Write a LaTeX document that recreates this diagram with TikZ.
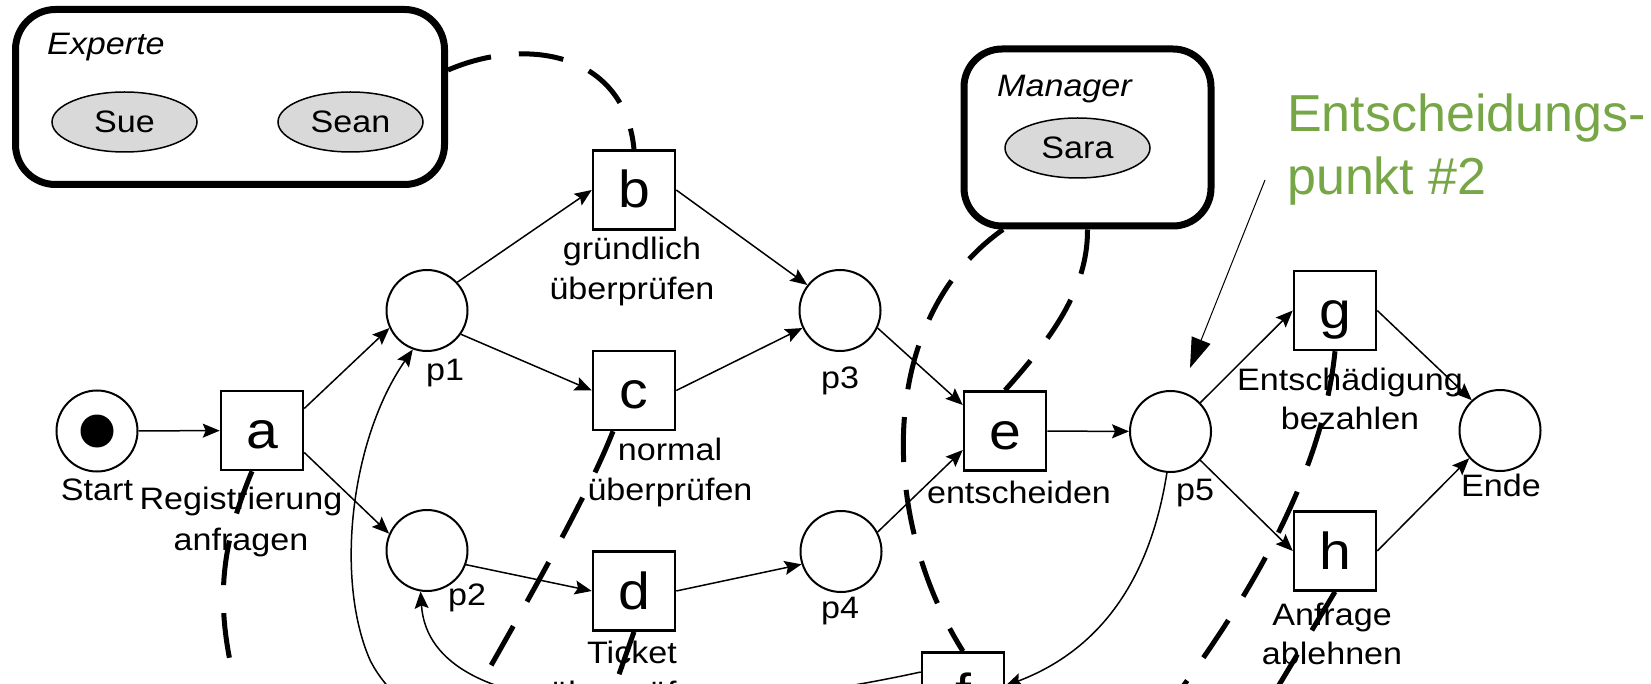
\documentclass[tikz,border=0pt]{standalone}
\usepackage{fontspec}
\setmainfont{Liberation Sans}
\usepackage{graphicx}
\usetikzlibrary{arrows.meta,shapes.geometric}
\definecolor{notegreen}{RGB}{118,166,70}
\definecolor{membergray}{RGB}{217,217,217}
% slightly widened lettering
\newcommand{\wide}[1]{\scalebox{1.1}[1]{#1}}

\begin{document}
\begin{tikzpicture}[x=1pt,y=-1pt,
  place/.style={circle,draw,fill=white,line width=2pt,minimum size=81pt,inner sep=0pt},
  trans/.style={rectangle,draw,fill=white,line width=2.5pt,minimum width=82pt,minimum height=79pt,
    inner sep=0pt,font=\fontsize{52}{60}\selectfont,text height=47pt,text depth=11pt},
  lbl/.style={anchor=base,inner sep=0pt,font=\fontsize{31}{36}\selectfont},
  rolelbl/.style={anchor=base west,inner sep=0pt,font=\itshape\fontsize{31}{36}\selectfont},
  note/.style={anchor=base west,inner sep=0pt,text=notegreen,font=\fontsize{52}{63}\selectfont},
  arc/.style={line width=1.5pt,-{Stealth[length=17pt,width=14pt,inset=3pt]}},
  res/.style={line width=5pt,dash pattern=on 45pt off 28pt},
  role/.style={rectangle,draw,fill=white,line width=7pt,inner sep=0pt},
  member/.style={ellipse,draw,line width=1.5pt,fill=membergray,minimum width=145pt,
    minimum height=60pt,inner sep=0pt,font=\fontsize{31}{36}\selectfont},
]
\useasboundingbox (0,0) rectangle (1651,684);
\clip (0,0) rectangle (1651,684);

% role boxes
\node[role,minimum width=429pt,minimum height=175pt,rounded corners=40pt] (exp) at (230,97) {};
\node[rolelbl] (lexp) at (47,55) {\wide{Experte}};
\node[member] (sue) at (124.5,122) {\wide{Sue}};
\node[member] (sean) at (350.5,122) {\wide{Sean}};

\node[role,minimum width=247pt,minimum height=177pt,rounded corners=38pt] (mgr) at (1087.5,137.5) {};
\node[rolelbl] (lmgr) at (997,97) {\wide{Manager}};
\node[member] (sara) at (1077.5,148) {\wide{Sara}};

% annotation
\node[note] (n1) at (1287,132) {Entscheidungs-};
\node[note] (n2) at (1287,195) {punkt \#2};
\coordinate (ptr0) at (1265,180);
\coordinate (ptr1) at (1190,368);
\draw[line width=1pt,-{Triangle[length=30pt,width=20pt]}] (ptr0) -- (ptr1);

% places
\node[place] (start) at (97,431) {};
\node[circle,fill,minimum size=33pt,inner sep=0pt] (tok) at (start) {};
\node[place] (p1) at (427,310.5) {};
\node[place] (p2) at (427,550.5) {};
\node[place] (p3) at (840,310.5) {};
\node[place] (p4) at (841,551.5) {};
\node[place] (p5) at (1170.5,431.5) {};
\node[place] (ende) at (1500,430.5) {};

% transitions
\node[trans] (a) at (262,430.5) {\wide{a}};
\node[trans] (b) at (634,190) {\wide{b}};
\node[trans] (c) at (634,390.5) {\wide{c}};
\node[trans] (d) at (634,591) {\wide{d}};
\node[trans] (e) at (1005,431) {\wide{e}};
\node[trans] (f) at (963,692) {\wide{f}};
\node[trans] (g) at (1335,310.5) {\wide{g}};
\node[trans] (h) at (1335,551) {\wide{h}};

% labels
\node[lbl] (lstart) at (97,500) {\wide{Start}};
\node[lbl] (la1) at (241,509) {\wide{Registrierung}};
\node[lbl] (la2) at (241,550) {\wide{anfragen}};
\node[lbl] (lp1) at (445,380) {\wide{p1}};
\node[lbl] (lb1) at (632,260) {\wide{gründlich}};
\node[lbl] (lb2) at (632,300) {\wide{überprüfen}};
\node[lbl] (lc1) at (670,460) {\wide{normal}};
\node[lbl] (lc2) at (670,500) {\wide{überprüfen}};
\node[lbl] (lp2) at (467,605) {\wide{p2}};
\node[lbl] (ld1) at (632,663) {\wide{Ticket}};
\node[lbl] (ld2) at (632,703) {\wide{überprüfen}};
\node[lbl] (lp3) at (840,388) {\wide{p3}};
\node[lbl] (lp4) at (840,618) {\wide{p4}};
\node[lbl] (le) at (1019,503) {\wide{entscheiden}};
\node[lbl] (lp5) at (1195,500) {\wide{p5}};
\node[lbl] (lg1) at (1350,390) {\wide{Entschädigung}};
\node[lbl] (lg2) at (1350,429) {\wide{bezahlen}};
\node[lbl] (lh1) at (1332,625) {\wide{Anfrage}};
\node[lbl] (lh2) at (1332,664) {\wide{ablehnen}};
\node[lbl] (lende) at (1501,496) {\wide{Ende}};

% flow arcs
\draw[arc] (start) -- (a);
\draw[arc] ([yshift=22pt]a.east) -- (p1.205);
\draw[arc] ([yshift=-22pt]a.east) -- (p2.156);
\draw[arc] (p1.43) -- (b.west);
\draw[arc] (p1.325) -- (c.west);
\draw[arc] (b.east) -- (p3.142);
\draw[arc] (c.east) -- (p3.205);
\draw[arc] (p2.340) -- (d.west);
\draw[arc] (d.east) -- (p4.198);
\draw[arc] (p3.335) -- ([yshift=26pt]e.west);
\draw[arc] (p4.28) -- ([yshift=-19pt]e.west);
\draw[arc] (e) -- (p5);
\draw[arc] (p5.44) -- (g.west);
\draw[arc] (p5.316) -- (h.west);
\draw[arc] (g.east) -- (ende.133);
\draw[arc] (h.east) -- (ende.222);
\draw[arc] (p5.265) .. controls (1150,580) and (1100,650) .. ([yshift=6pt]f.east);
\draw[arc] ([yshift=20pt]f.west) .. controls (700,720) and (430,730) .. (p2.261);
\coordinate (loop1) at (370,660);
\draw[arc] ([yshift=-20pt]f.west) .. controls (700,800) and (430,780) .. (loop1)
  .. controls (335,580) and (350,440) .. (p1.250);

% resource assignments
\coordinate (offa) at (245,720);
\coordinate (offc) at (460,720);
\coordinate (offd) at (603,720);
\coordinate (offg) at (1150,730);
\coordinate (offh) at (1258,720);
\draw[res] ([yshift=27pt]exp.east) .. controls (530,35) and (625,55) .. (b.north);
\draw[res] ([xshift=-84.5pt]mgr.south) .. controls (875,320) and (880,520) .. (f.north);
\draw[res] (mgr.south) .. controls (1088,290) and (1050,340) .. (e.north);
\draw[res] ([xshift=-10pt]a.south) .. controls (215,560) and (215,620) .. (offa);
\draw[res] ([xshift=-21pt]c.south) .. controls (590,490) and (540,580) .. (offc);
\draw[res] (d.south) -- (offd);
\draw[res] (g.south) .. controls (1325,450) and (1275,570) .. (offg);
\draw[res] (h.south) -- (offh);
\end{tikzpicture}
\end{document}
